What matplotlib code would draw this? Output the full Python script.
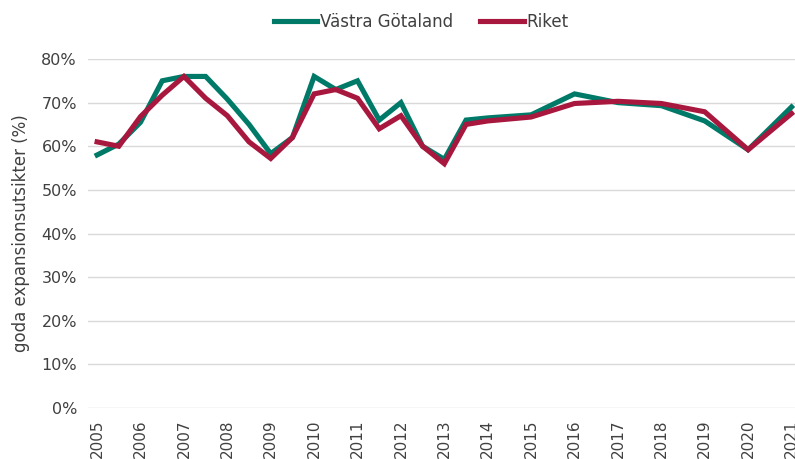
import matplotlib.pyplot as plt
from matplotlib.ticker import FixedLocator

# x positions (years, half-year steps up to 2014)
years = [2005, 2005.5, 2006, 2006.5, 2007, 2007.5, 2008, 2008.5, 2009, 2009.5,
         2010, 2010.5, 2011, 2011.5, 2012, 2012.5, 2013, 2013.5, 2014, 2015,
         2016, 2017, 2018, 2019, 2020, 2021]
vastra_gotaland = [58, 60.5, 65.5, 75, 76, 76, 70.8, 65, 58.3, 62,
                   76, 73, 75, 66, 70, 60, 57, 66, 66.5, 67.2,
                   72, 70, 69.3, 65.8, 59.2, 69]
riket = [61, 60, 66.8, 71.7, 76, 71, 67, 61, 57.2, 62,
         72, 73, 71, 64, 67, 60, 56, 65, 65.8, 66.7,
         69.8, 70.3, 69.8, 67.9, 59.2, 67.5]
tick_years = list(range(2005, 2022))
y_ticks = [0, 10, 20, 30, 40, 50, 60, 70, 80]

green = '#007a68'
red = '#a8173e'
text_col = '#404040'

fig = plt.figure(figsize=(7.95, 4.59), dpi=100)
ax = fig.add_axes([0.1107, 0.111, 0.8893, 0.7605])

ax.plot(years, vastra_gotaland, color=green, lw=3.7, label='Västra Götaland',
        solid_joinstyle='miter')
ax.plot(years, riket, color=red, lw=3.7, label='Riket', solid_joinstyle='miter')

ax.set_xlim(2004.79, 2021.08)
ax.set_ylim(0, 80)
ax.yaxis.set_major_locator(FixedLocator(y_ticks))
ax.set_yticklabels(['%d%%' % v for v in y_ticks])
ax.set_xticks(tick_years)
ax.set_xticklabels([str(y) for y in tick_years], rotation=90, va='top')
ax.tick_params(length=0, labelsize=11.5, colors=text_col, pad=8)
ax.tick_params(axis='x', labelsize=11, pad=8)
ax.grid(axis='y', color='#d9d9d9', lw=1)
ax.set_axisbelow(True)
for s in ax.spines.values():
    s.set_visible(False)

ax.set_ylabel('goda expansionsutsikter (%)', fontsize=12, color=text_col, labelpad=8)

fig.legend(loc='upper center', bbox_to_anchor=(0.53, 1.005), ncol=2, frameon=False,
           fontsize=12, handlelength=2.6, handletextpad=0.2, columnspacing=1.6,
           labelcolor=text_col)

fig.savefig('out.png', dpi=100)
